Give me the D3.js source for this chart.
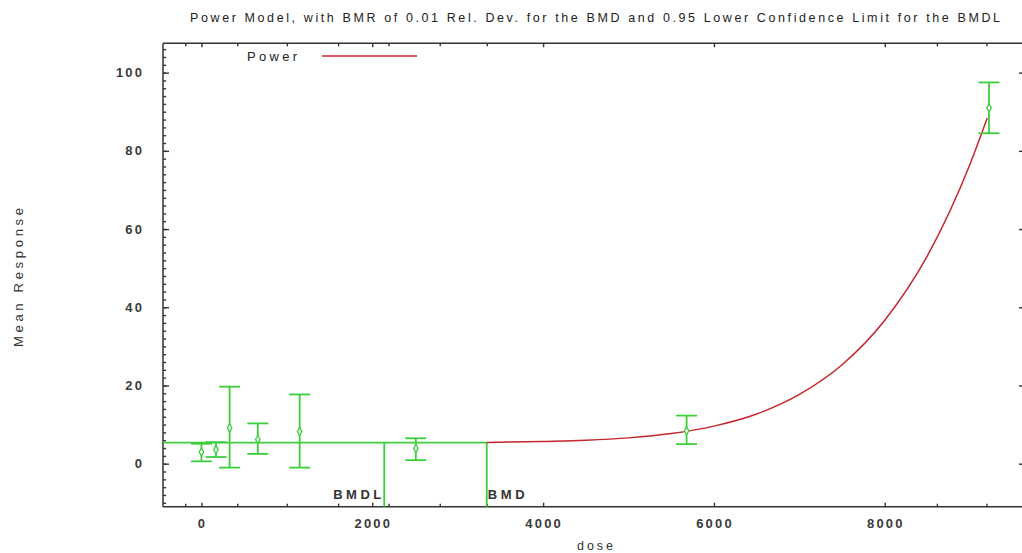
<!DOCTYPE html>
<html><head><meta charset="utf-8">
<script src="https://cdn.jsdelivr.net/npm/d3@7"></script>
<style>body{margin:0;background:#fff} svg{display:block} text{font-family:"Liberation Sans",Arial,sans-serif}</style>
</head><body><svg id="c" width="1022" height="553"></svg>
<script>
// ---- data ----
const doses  = [0, 170, 330, 660, 1150, 2510, 5680, 9220];
const means  = [3.0, 3.6, 9.2, 6.2, 8.2, 3.9, 8.4, 91.0];
const lowers = [0.6, 1.7, -1.0, 2.5, -1.0, 0.9, 5.0, 84.5];
const uppers = [5.1, 5.5, 19.7, 10.3, 17.7, 6.5, 12.3, 97.5];
const curveDose = [3340, 4000, 4500, 5000, 5500, 6000, 6500, 7000, 7500, 8000, 8500, 9000, 9200];
const curveResp = [5.4, 5.7, 6.0, 6.6, 7.7, 9.6, 12.7, 17.7, 25.3, 36.7, 53.2, 76.7, 88.4];
const bmrLevel = 5.4;
const bmdlDose = 2140;
const bmdDose = 3340;
const xTicks = [0, 2000, 4000, 6000, 8000];
const xMinorTicks = [-190, 420, 1000, 1600, 2190, 2790, 3340, 8610, 9190];
const yTicks = [0, 20, 40, 60, 80, 100];
const yMinorTicks = d3.range(-10, 108, 2);
const title = "Power Model, with BMR of 0.01 Rel. Dev. for the BMD and 0.95 Lower Confidence Limit for the BMDL";
const legendLabel = "Power";
const xLabel = "dose";
const yLabel = "Mean Response";

// ---- layout ----
const L = 163, R = 1024, T = 43.3, B = 506.7;
const x = d3.scaleLinear().domain([-450, 9630]).range([L, R]);
const y = d3.scaleLinear().domain([-11, 107.5]).range([B, T]);
const green = "#3ccf3c", red = "#c4262b", axisCol = "#333";

const svg = d3.select("#c");

// frame
svg.append("g").attr("stroke", axisCol).attr("stroke-width", 1.5).attr("fill", "none")
  .call(g => {
    g.append("line").attr("x1", L).attr("x2", R).attr("y1", T).attr("y2", T);
    g.append("line").attr("x1", L).attr("x2", R).attr("y1", B).attr("y2", B);
    g.append("line").attr("x1", L).attr("x2", L).attr("y1", T).attr("y2", B);
  });

// axes (inward ticks)
const axBottom = d3.axisTop(x).tickValues(xTicks).tickSize(4).tickFormat("");
const axBottomMinor = d3.axisTop(x).tickValues(xMinorTicks).tickSize(3).tickFormat("");
const axTop = d3.axisBottom(x).tickValues(xTicks).tickSize(4).tickFormat("");
const axTopMinor = d3.axisBottom(x).tickValues(xMinorTicks).tickSize(3).tickFormat("");
const axLeft = d3.axisRight(y).tickValues(yTicks).tickSize(6).tickFormat("");
const axLeftMinor = d3.axisRight(y).tickValues(yMinorTicks).tickSize(3).tickFormat("");
const axRight = d3.axisLeft(y).tickValues(yTicks).tickSize(5).tickFormat("");
function style(g){ g.select(".domain").remove(); g.selectAll("line").attr("stroke", axisCol).attr("stroke-width", 1.4); }
svg.append("g").attr("transform", `translate(0,${B})`).call(axBottom).call(style);
svg.append("g").attr("transform", `translate(0,${B})`).call(axBottomMinor).call(style);
svg.append("g").attr("transform", `translate(0,${T})`).call(axTop).call(style);
svg.append("g").attr("transform", `translate(0,${T})`).call(axTopMinor).call(style);
svg.append("g").attr("transform", `translate(${L},0)`).call(axLeft).call(style);
svg.append("g").attr("transform", `translate(${L},0)`).call(axLeftMinor).call(style);
svg.append("g").attr("transform", `translate(${R},0)`).call(axRight).call(style);

// tick labels
const ls = 2.2;
svg.append("g").selectAll("text").data(xTicks).join("text")
  .attr("x", d => x(d) + ls/2).attr("y", 528).attr("text-anchor", "middle")
  .attr("font-size", 13).attr("font-weight", "bold").attr("letter-spacing", ls).attr("fill", "#3a3a3a")
  .text(d => d);
svg.append("g").selectAll("text").data(yTicks).join("text")
  .attr("x", 142 + ls).attr("y", d => y(d) + 4.5).attr("text-anchor", "end")
  .attr("font-size", 13).attr("font-weight", "bold").attr("letter-spacing", ls).attr("fill", "#3a3a3a")
  .text(d => d);

// axis titles
svg.append("text").attr("x", 577).attr("y", 549.5).attr("font-size", 12.5).attr("fill", "#333")
  .attr("textLength", 36).attr("lengthAdjust", "spacing").text(xLabel);
svg.append("text").attr("transform", "translate(23,347) rotate(-90)").attr("font-size", 13).attr("fill", "#333")
  .attr("textLength", 139).attr("lengthAdjust", "spacing").text(yLabel);

// title
svg.append("text").attr("x", 190).attr("y", 21.5).attr("font-size", 12.5).attr("fill", "#222")
  .attr("textLength", 810).attr("lengthAdjust", "spacing").text(title);

// legend
svg.append("text").attr("x", 247).attr("y", 61).attr("font-size", 13).attr("fill", "#222")
  .attr("textLength", 50).attr("lengthAdjust", "spacing").text(legendLabel);
svg.append("line").attr("x1", 322).attr("x2", 417).attr("y1", 56).attr("y2", 56)
  .attr("stroke", red).attr("stroke-width", 1.5);

// BMR level & BMD/BMDL markers
const gm = svg.append("g").attr("stroke", green).attr("stroke-width", 1.8).attr("fill", "none");
gm.append("line").attr("x1", x(-450)).attr("x2", x(bmdDose)).attr("y1", y(bmrLevel)).attr("y2", y(bmrLevel));
[bmdlDose, bmdDose].forEach(d => gm.append("line").attr("x1", x(d)).attr("x2", x(d)).attr("y1", y(bmrLevel)).attr("y2", y(-11)));
svg.append("text").attr("x", x(bmdlDose) - 3).attr("y", 498.5).attr("text-anchor", "end")
  .attr("font-size", 13).attr("font-weight", "bold").attr("fill", "#333").attr("textLength", 48).attr("lengthAdjust", "spacing").text("BMDL");
svg.append("text").attr("x", x(bmdDose) + 1).attr("y", 498.5)
  .attr("font-size", 13).attr("font-weight", "bold").attr("fill", "#333").attr("textLength", 37).attr("lengthAdjust", "spacing").text("BMD");

// fitted curve
const pts = curveDose.map((d, i) => [d, curveResp[i]]);
svg.append("path").datum(pts)
  .attr("d", d3.line().x(d => x(d[0])).y(d => y(d[1])).curve(d3.curveMonotoneX))
  .attr("fill", "none").attr("stroke", red).attr("stroke-width", 1.5);

// error bars
const ge = svg.append("g").attr("stroke", green).attr("stroke-width", 1.8).attr("fill", "none");
doses.forEach((d, i) => {
  const cx = x(d);
  ge.append("line").attr("x1", cx).attr("x2", cx).attr("y1", y(lowers[i])).attr("y2", y(uppers[i]));
  ge.append("line").attr("x1", cx - 10.5).attr("x2", cx + 10.5).attr("y1", y(lowers[i])).attr("y2", y(lowers[i]));
  ge.append("line").attr("x1", cx - 10.5).attr("x2", cx + 10.5).attr("y1", y(uppers[i])).attr("y2", y(uppers[i]));
  ge.append("path").attr("transform", `translate(${cx},${y(means[i])})`)
    .attr("d", d3.symbol(d3.symbolDiamond, 18)()).attr("stroke-width", 1.3).attr("fill", "#fff");
});
</script></body></html>
